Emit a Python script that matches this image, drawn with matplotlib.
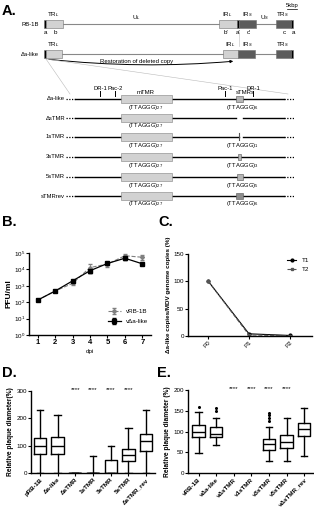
import numpy as np
import matplotlib
matplotlib.use('Agg')
import matplotlib.pyplot as plt
from matplotlib.patches import Rectangle, FancyArrowPatch

plt.rcParams['font.family'] = ['Liberation Sans', 'DejaVu Sans']
plt.rcParams['mathtext.fontset'] = 'custom'
plt.rcParams['mathtext.rm'] = 'Liberation Sans'
plt.rcParams['mathtext.bf'] = 'Liberation Sans:bold'
plt.rcParams['font.size'] = 5

W, H = 314, 511

# ---- data ----
# B: multi-step growth kinetics
days = [1, 2, 3, 4, 5, 6, 7]
rb1b_pfu = [135, 480, 1400, 13000, 21000, 68000, 55000]
rb1b_err = [20, 60, 300, 7000, 6000, 15000, 18000]
dalike_pfu = [135, 480, 2000, 8300, 23000, 48000, 22000]
dalike_err = [20, 60, 400, 2500, 5000, 8000, 3000]

# C: restoration over passages
passages = ['P0', 'P1', 'P2']
t1_pct = [100, 4, 1]
t2_pct = [100, 2, 0.5]

# D: plaque sizes of BAC clones (whislo, q1, med, q3, whishi)
d_labels = ['pRB-1B', 'Δa-like', 'ΔsTMR', '1sTMR', '3sTMR', '5sTMR', 'ΔsTMR_rev']
d_stats = [(0, 68, 97, 129, 232), (0, 70, 97, 130, 214), (0, 0, 0, 0, 0),
           (0, 0, 0, 0, 62), (0, 0, 0, 46, 99), (0, 43, 65, 89, 166),
           (0, 80, 116, 142, 232)]
d_signif = [2, 3, 4, 5]

# E: plaque sizes of reconstituted viruses
e_labels = ['vRB-1B', 'vΔa-like', 'vΔsTMR', 'v1sTMR', 'v3sTMR', 'v5sTMR', 'vΔsTMR_rev']
e_stats = [(47, 86, 100, 115, 146), (68, 87, 95, 112, 132), None, None,
           (30, 55, 70, 83, 110), (28, 60, 75, 92, 133), (42, 88, 107, 120, 157)]
e_fliers = [[160], [150, 157], [], [], [125, 133, 140, 145], [], []]
e_signif = [2, 3, 4, 5]

# A: schematic
detail_names = ['Δa-like', 'ΔsTMR', '1sTMR', '3sTMR', '5sTMR', 'sTMRrev']
stmr_repeats = [6, 0, 1, 3, 5, 6]

fig = plt.figure(figsize=(W / 100, H / 100), dpi=100)

def axes_px(l, t, r, b):
    return fig.add_axes([l / W, 1 - b / H, (r - l) / W, (b - t) / H])

def prism(ax):
    for s in ['top', 'right']:
        ax.spines[s].set_visible(False)
    for s in ['left', 'bottom']:
        ax.spines[s].set_linewidth(1.0)
    ax.tick_params(width=0.8, length=2, labelsize=4.5, pad=1)

# overlay in pixel coordinates for schematic and panel letters
ov = fig.add_axes([0, 0, 1, 1])
ov.set_xlim(0, W)
ov.set_ylim(H, 0)
ov.axis('off')

for lab, x, y in [('A.', 2, 11), ('B.', 2, 222), ('C.', 158, 222), ('D.', 2, 373), ('E.', 157, 373)]:
    ov.text(x, y, lab, fontsize=10.5, fontweight='bold', va='center', ha='left')

LIGHT = '#d2d2d2'
DARK = '#5c5c5c'

def box(x0, x1, yc, h, fc, ec='#707070', lw=0.4):
    ov.add_patch(Rectangle((x0, yc - h / 2), x1 - x0, h, fc=fc, ec=ec, lw=lw, zorder=3))

# RB-1B genome
y0 = 24
ov.plot([46, 276], [y0, y0], color='#888888', lw=0.8)
for x0, x1, c in [(44, 46, 'k'), (46, 63, LIGHT), (219, 237, LIGHT), (237, 239, 'k'),
                  (239, 256, DARK), (276, 291, DARK), (291, 293, 'k')]:
    box(x0, x1, y0, 8, c)
ov.text(39, y0, 'RB-1B', fontsize=4.2, ha='right', va='center')
for t, x in [('TR$_L$', 53), ('IR$_L$', 227), ('IR$_S$', 247), ('TR$_S$', 283)]:
    ov.text(x, y0 - 5, t, fontsize=4.5, ha='center', va='bottom')
ov.text(136, y0 - 2, 'U$_L$', fontsize=4.5, ha='center', va='bottom')
ov.text(265, y0 - 2, 'U$_S$', fontsize=4.5, ha='center', va='bottom')
for t, x in [('a', 45), ('b', 55), ("b'", 226), ("a'", 238), ("c'", 249), ('c', 284), ('a', 293)]:
    ov.text(x, y0 + 8, t, fontsize=4.5, ha='center', va='center')
ov.text(292, 6, '5kbp', fontsize=4.2, ha='center', va='center')
ov.plot([287, 297], [9, 9], color='k', lw=0.5)

# Delta a-like genome
y1 = 54
ov.plot([46, 276], [y1, y1], color='#888888', lw=0.8)
for x0, x1, c in [(44, 46, 'k'), (46, 62, LIGHT), (223, 238, LIGHT), (238, 255, DARK),
                  (276, 291, DARK), (291, 293, 'k')]:
    box(x0, x1, y1, 8, c)
ov.text(39, y1, 'Δa-like', fontsize=4.2, ha='right', va='center')
for t, x in [('TR$_L$', 53), ('IR$_L$', 230), ('IR$_S$', 247), ('TR$_S$', 283)]:
    ov.text(x, y1 - 5, t, fontsize=4.5, ha='center', va='bottom')
ov.plot([239, 239], [32, 46], color='#bbbbbb', lw=0.4)
arr = FancyArrowPatch((46, 59), (236, 61), connectionstyle='arc3,rad=0.05',
                      arrowstyle='-|>', mutation_scale=4, lw=0.7, color='k')
ov.add_patch(arr)
ov.text(137, 61, 'Restoration of deleted copy', fontsize=4.3, ha='center', va='center')
ov.plot([46, 70], [59, 94], color='#bbbbbb', lw=0.4)
ov.plot([46, 288], [59, 94], color='#bbbbbb', lw=0.4)

# detail rows
rows_y = [99, 118, 137, 157, 177, 196]
for lab, x in [('DR-1', 100), ('Pac-2', 115), ('Pac-1', 225), ('DR-1', 253)]:
    ov.plot([x, x], [91, 96], color='k', lw=0.7)
    ov.text(x, 88, lab, fontsize=4.2, ha='center', va='center')
ov.text(146, 92, 'mTMR', fontsize=4.3, ha='center', va='center')
ov.text(245, 92, 'sTMRs', fontsize=4.3, ha='center', va='center')
for name, n, y in zip(detail_names, stmr_repeats, rows_y):
    ov.text(65, y, name, fontsize=4.2, ha='right', va='center')
    ov.plot([66, 75], [y, y], color='k', lw=0.9, ls=(0, (1, 1.2)))
    ov.plot([284, 294], [y, y], color='k', lw=0.9, ls=(0, (1, 1.2)))
    if n == 0:
        ov.plot([75, 236], [y, y], color='k', lw=1.0)
        ov.plot([243, 284], [y, y], color='k', lw=1.0)
    elif n == 1:
        ov.plot([75, 239], [y, y], color='k', lw=1.0)
        ov.plot([243, 284], [y, y], color='k', lw=1.0)
        ov.plot([239, 239], [y - 3.5, y + 3.5], color='#555555', lw=0.8)
    else:
        ov.plot([75, 284], [y, y], color='k', lw=1.0)
        wpx = 1.2 * n
        fc = '#8c8c8c' if name == 'sTMRrev' else '#b5b5b5'
        box(239.5 - wpx / 2, 239.5 + wpx / 2, y, 6.5, fc, ec='#555555')
    box(121, 172, y, 8, LIGHT, ec='#808080')
    ov.text(146, y + 8, '(TTAGGG)$_{27}$', fontsize=4.2, ha='center', va='center')
    if n > 0:
        ov.text(242, y + 8, '(TTAGGG)$_{%d}$' % n, fontsize=4.2, ha='center', va='center')

# ---- B ----
axB = axes_px(29, 253, 151, 335)
axB.errorbar(days, rb1b_pfu, yerr=rb1b_err, color='#808080', ls='--', lw=0.8,
             marker='D', ms=2, capsize=1.5, elinewidth=0.6, label='vRB-1B')
axB.errorbar(days, dalike_pfu, yerr=dalike_err, color='k', ls='-', lw=0.9,
             marker='s', ms=2.5, capsize=1.5, elinewidth=0.6, label='vΔa-like')
axB.set_yscale('log')
axB.set_ylim(1, 1e5)
axB.set_xlim(0.5, 7.5)
axB.set_yticks([10 ** k for k in range(6)])
axB.set_yticklabels(['10$^{%d}$' % k for k in range(6)])
axB.minorticks_off()
axB.set_xticks(days)
axB.set_xticklabels([str(d) for d in days], fontweight='bold', fontsize=5.5)
prism(axB)
axB.tick_params(axis='x', labelsize=5.5)
axB.set_xlabel('dpi', fontsize=4.5, labelpad=2)
axB.set_ylabel('PFU/ml', fontsize=6, fontweight='bold', labelpad=1)
axB.legend(loc='lower right', fontsize=4.5, frameon=False, handlelength=2,
           bbox_to_anchor=(1.02, 0.06), labelspacing=0.8)

# ---- C ----
axC = axes_px(188, 254, 312, 336)
xc = np.arange(len(passages))
axC.plot(xc, t1_pct, color='k', marker='o', ms=2, lw=0.8, label='T1')
axC.plot(xc, t2_pct, color='#555555', marker='s', ms=2, lw=0.8, ls='--', label='T2')
axC.set_ylim(0, 150)
axC.set_xlim(-0.5, 2.55)
axC.set_yticks([0, 50, 100, 150])
axC.set_xticks(xc)
axC.set_xticklabels(passages, rotation=45, ha='right', rotation_mode='anchor')
prism(axC)
axC.set_ylabel('Δa-like copies/MDV genome copies (%)', fontsize=4.5, fontweight='bold', labelpad=2)
axC.legend(loc='upper right', fontsize=4.5, frameon=False, handlelength=1.5,
           bbox_to_anchor=(1.02, 1.02))

# ---- D ----
def to_bxp(stats, fliers=None):
    out = []
    for i, s in enumerate(stats):
        lo, q1, med, q3, hi = s
        out.append(dict(whislo=lo, q1=q1, med=med, q3=q3, whishi=hi,
                        fliers=fliers[i] if fliers else []))
    return out

bprops = dict(boxprops=dict(lw=1.0), whiskerprops=dict(lw=1.0), capprops=dict(lw=1.0),
              medianprops=dict(color='k', lw=1.0))

axD = axes_px(31, 391, 155, 473)
axD.bxp(to_bxp(d_stats), positions=range(len(d_labels)), widths=0.7, showfliers=False, **bprops)
axD.set_ylim(0, 300)
axD.set_xlim(-0.5, 6.5)
axD.set_yticks([0, 100, 200, 300])
axD.set_xticks(range(len(d_labels)))
axD.set_xticklabels(d_labels, rotation=45, ha='right', rotation_mode='anchor', fontweight='bold')
prism(axD)
axD.set_ylabel('Relative plaque diameter(%)', fontsize=4.8, fontweight='bold', labelpad=2)
for i in d_signif:
    axD.text(i, 306, '****', fontsize=4.5, ha='center', va='center', clip_on=False)

# ---- E ----
axE = axes_px(188, 390, 313, 473)
pos = [i for i, s in enumerate(e_stats) if s is not None]
axE.bxp(to_bxp([e_stats[i] for i in pos], [e_fliers[i] for i in pos]), positions=pos,
        widths=0.7, showfliers=True,
        flierprops=dict(marker='o', ms=1.2, mfc='k', mec='k'), **bprops)
axE.set_ylim(0, 200)
axE.set_xlim(-0.6, 6.5)
axE.set_yticks([0, 50, 100, 150, 200])
axE.set_xticks(range(len(e_labels)))
axE.set_xticklabels(e_labels, rotation=45, ha='right', rotation_mode='anchor', fontweight='bold')
prism(axE)
axE.set_ylabel('Relative plaque diameter (%)', fontsize=4.8, fontweight='bold', labelpad=2)
for i in e_signif:
    axE.text(i, 203, '****', fontsize=4.5, ha='center', va='center', clip_on=False)

fig.savefig('out.png', dpi=100)
